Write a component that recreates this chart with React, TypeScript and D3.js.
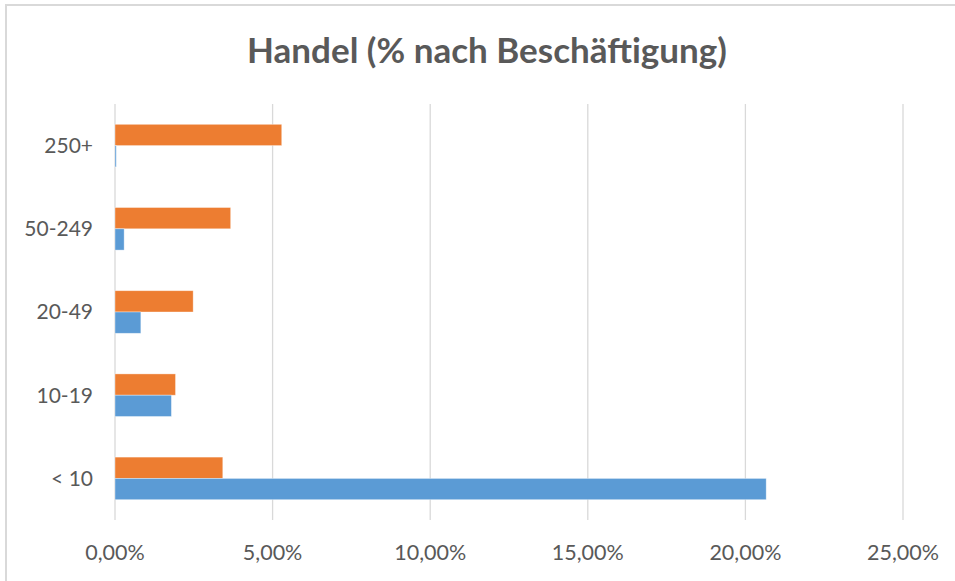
import React from "react";
import * as d3 from "d3";

const title = "Handel (% nach Beschäftigung)";
const categories = ["250+", "50-249", "20-49", "10-19", "< 10"];
// blue series (lower bar in each group)
const seriesBlue = [0.0004, 0.0029, 0.0082, 0.0179, 0.2066];
// orange series (upper bar in each group)
const seriesOrange = [0.0529, 0.0367, 0.0248, 0.0192, 0.0342];
const ticks = [0, 0.05, 0.1, 0.15, 0.2, 0.25];

const W = 955;
const H = 581;
const font = "Lato, 'Open Sans', sans-serif";
const textColor = "#595959";
const gridColor = "#d9d9d9";

const App = () => {
  const x = d3.scaleLinear().domain([0, 0.25]).range([115, 903]);
  const y = d3.scaleBand().domain(categories).range([104, 520]);
  const band = y.bandwidth();
  const inner = d3
    .scaleBand()
    .domain(["orange", "blue"])
    .range([band * 0.244, band * 0.756]);

  const series = [
    { key: "orange", values: seriesOrange, color: "#ED7D31" },
    { key: "blue", values: seriesBlue, color: "#5B9BD5" },
  ];

  const fmt = (v: number) => (v * 100).toFixed(2).replace(".", ",") + "%";

  return (
    <div style={{ position: "absolute", left: 0, top: 0 }}>
      <svg width={W} height={H} style={{ display: "block" }}>
        <rect x={0} y={0} width={W} height={H} fill="#fff" />
        <rect x={6} y={5} width={W + 20} height={H + 20} fill="#fff" stroke={gridColor} strokeWidth={2} />
        <text x={487} y={63} textAnchor="middle" fontFamily={font} fontWeight="bold" fontSize={35} fill={textColor}>
          {title}
        </text>
        {ticks.map((t) => (
          <g key={t}>
            <line x1={x(t)} x2={x(t)} y1={104} y2={520} stroke={gridColor} strokeWidth={1.3} />
            <text x={x(t)} y={560} textAnchor="middle" fontFamily={font} fontSize={21.5} fill={textColor}>
              {fmt(t)}
            </text>
          </g>
        ))}
        {series.map((s) =>
          categories.map((c, i) => (
            <rect
              key={s.key + c}
              x={x(0)}
              y={(y(c) as number) + (inner(s.key) as number)}
              width={x(s.values[i]) - x(0)}
              height={inner.bandwidth()}
              fill={s.color}
              stroke="#fff"
              strokeOpacity={0.5}
              strokeWidth={0.75}
            />
          ))
        )}
        {categories.map((c) => (
          <text
            key={c}
            x={93}
            y={(y(c) as number) + band / 2}
            dy="0.35em"
            textAnchor="end"
            fontFamily={font}
            fontSize={21}
            fill={textColor}
          >
            {c}
          </text>
        ))}
      </svg>
    </div>
  );
};

export default App;
